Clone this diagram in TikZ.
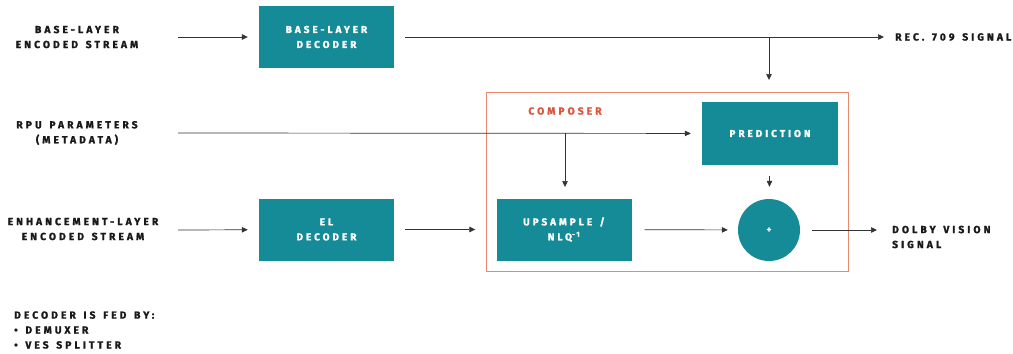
\documentclass[tikz,border=0pt]{standalone}
\usepackage{fontspec}
\setmainfont{Fira Sans}[LetterSpace=30,WordSpace=1.4,BoldFeatures={FakeBold=1.6}]
\usepackage{tikz}
\usetikzlibrary{arrows.meta,shapes}

\definecolor{dvteal}{HTML}{148B97}
\definecolor{dvorange}{HTML}{D9583D}
\definecolor{dvsalmon}{HTML}{E9876F}

\tikzset{
  blockbox/.style={fill=dvteal,minimum width=135bp,minimum height=62bp,text=white,
    font=\bfseries\fontsize{10}{15}\selectfont,align=center,inner sep=0pt},
  lbltext/.style={font=\bfseries\fontsize{10.3}{15}\selectfont,align=center,text=black!90,inner sep=0pt},
  wire/.style={line width=0.7pt,draw=black!80},
  tip/.style={-{Triangle[length=6bp,width=5.5bp]}},
}

\begin{document}
\begin{tikzpicture}[x=1bp,y=1bp]
\useasboundingbox (0,0) rectangle (1013,-353);

% inputs
\node (blin) at (77,-37)[lbltext] {BASE-LAYER\\ENCODED STREAM};
\node (rpuin) at (77,-133)[lbltext] {RPU PARAMETERS\\(METADATA)};
\node (elin) at (83,-229)[lbltext] {ENHANCEMENT-LAYER\\ENCODED STREAM};
\node (feed) at (14,-330)[lbltext,anchor=west,align=left] {DECODER IS FED BY:\\• DEMUXER\\• VES SPLITTER};

% composer frame
\node (comp) at (667,-181.5)[draw=dvsalmon,line width=0.8pt,minimum width=362bp,minimum height=179bp] {};
\node (complbl) at (565,-111)[lbltext,text=dvorange] {COMPOSER};

% blocks
\node (bldec) at (326.5,-37)[blockbox] {BASE-LAYER\\DECODER};
\node (eldec) at (326.5,-229.5)[blockbox] {EL\\DECODER};
\node (upsmp) at (564,-229.5)[blockbox] {UPSAMPLE /\\NLQ\textsuperscript{-1}};
\node (pred) at (770,-133.5)[blockbox,minimum width=136bp,minimum height=63bp] {PREDICTION};
\node (sum) at (769,-230)[circle,fill=dvteal,minimum size=62bp,text=white,inner sep=0pt,font=\bfseries\fontsize{9}{11}\selectfont] {+};

% outputs
\node (rec709) at (895,-37)[lbltext,anchor=west] {REC. 709 SIGNAL};
\node (dvout) at (892,-237)[lbltext,anchor=west,align=left] {DOLBY VISION\\SIGNAL};

% connector ends
\coordinate (blstart) at (178,-37);
\coordinate (rpustart) at (178,-133);
\coordinate (elstart) at (178,-230);
\coordinate (recend) at (884,-37);
\coordinate (predtap) at (769,-37);
\coordinate (predin) at (769,-80);
\coordinate (upstap) at (565,-133);
\coordinate (upsin) at (565,-187);
\coordinate (dvend) at (877,-230);

\draw [wire,tip,shorten >=11bp] (blstart) -- (bldec);
\draw [wire,tip,shorten <=11bp] (bldec) -- (recend);
\draw [wire,tip] (predtap) -- (predin);
\draw [wire,tip,shorten >=11bp] (rpustart) -- (pred);
\draw [wire,tip] (upstap) -- (upsin);
\draw [wire,tip,shorten >=11bp] (elstart) -- (eldec);
\draw [wire,tip,shorten <=11bp,shorten >=21bp] (eldec) -- (upsmp);
\draw [wire,tip,shorten <=13bp,shorten >=10bp] (upsmp) -- (sum);
\draw [wire,tip,shorten <=11bp,shorten >=12bp] (pred) -- (sum);
\draw [wire,tip,shorten <=12bp] (sum) -- (dvend);
\end{tikzpicture}
\end{document}
